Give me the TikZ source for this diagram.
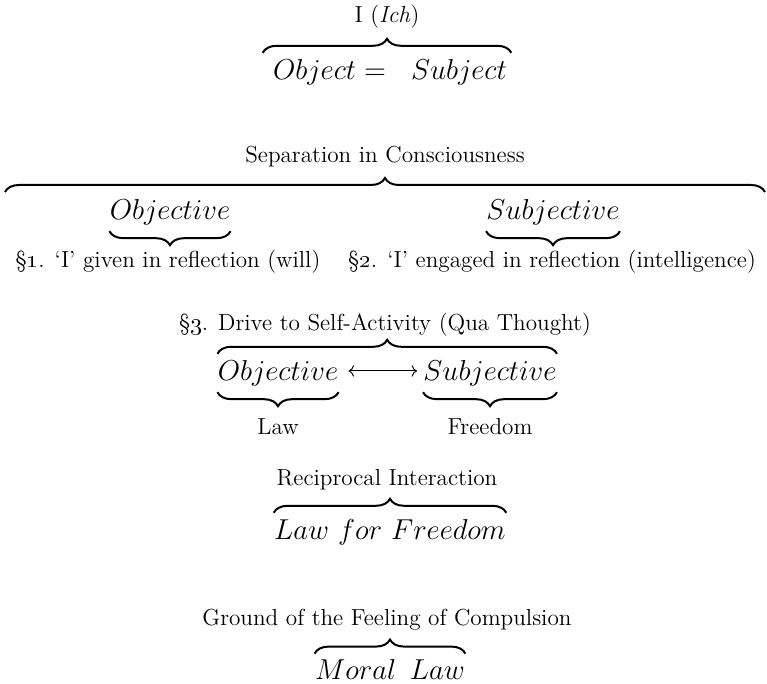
\documentclass[tikz,border=0pt]{standalone}
\usepackage{tikz}
\usetikzlibrary{arrows.meta,decorations.pathreplacing}

\begin{document}
\begin{tikzpicture}[x=0.5pt, y=0.5pt, >=To,
    txt/.style={inner sep=0pt, font=\fontsize{11.6}{13}\selectfont},
    big/.style={inner sep=0pt, font=\fontsize{15}{18}\selectfont},
    over/.style={decorate, decoration={brace, amplitude=7pt}, line width=1pt},
    under/.style={decorate, decoration={brace, mirror, amplitude=7pt}, line width=1pt}]

    \useasboundingbox (0,0) rectangle (767,684);

    % Ich
    \node[txt] (ich) at (387,667) {I (\textit{Ich})};
    \node[big] (obsub) at (390,612) {$Object =\;\ Subject$};
    \draw[over] ([xshift=-5pt,yshift=3pt]obsub.north west) -- ([xshift=2pt,yshift=3pt]obsub.north east);

    % Trennung im Bewusstsein
    \node[txt] (sep) at (385,527) {Separation in Consciousness};
    \coordinate (bl) at (5,492);
    \coordinate (br) at (765,492);
    \draw[over] (bl) -- (br);
    \node[big] (obj1) at (170,472) {$Objective$};
    \node[big] (subj1) at (553,472) {$Subjective$};
    \draw[under] ([yshift=-3pt]obj1.south west) -- ([yshift=-3pt]obj1.south east);
    \draw[under] ([yshift=-3pt]subj1.south west) -- ([yshift=-3pt]subj1.south east);
    \node[txt] (s1) at (168,422) {\S\oldstylenums{1}. `I' given in reflection (will)};
    \node[txt] (s2) at (552,422) {\S\oldstylenums{2}. `I' engaged in reflection (intelligence)};

    % Trieb zur Selbstthaetigkeit
    \node[txt] (s3) at (385,359) {\S\oldstylenums{3}. Drive to Self-Activity (Qua Thought)};
    \node[big] (obj2) at (278,311) {$Objective$};
    \node[big] (subj2) at (490,311) {$Subjective$};
    \draw[<->, line width=0.5pt] ([xshift=5pt,yshift=1pt]obj2.east) -- ([xshift=-3pt,yshift=1pt]subj2.west);
    \draw[over] ([yshift=3pt]obj2.north west) -- ([yshift=3pt]subj2.north east);
    \draw[under] ([yshift=-3pt]obj2.south west) -- ([yshift=-3pt]obj2.south east);
    \draw[under] ([yshift=-3pt]subj2.south west) -- ([yshift=-3pt]subj2.south east);
    \node[txt] (law) at (278,257) {Law};
    \node[txt] (free) at (490,257) {Freedom};

    % Wechselwirkung
    \node[txt] (recip) at (387,204) {Reciprocal Interaction};
    \node[big] (lff) at (390,152) {$Law\ for\ Freedom$};
    \draw[over] ([yshift=3pt]lff.north west) -- ([yshift=3pt]lff.north east);

    % Zwang
    \node[txt] (ground) at (387,64) {Ground of the Feeling of Compulsion};
    \node[big] (moral) at (390,14) {$Moral\,\ Law$};
    \draw[over] ([yshift=3pt]moral.north west) -- ([yshift=3pt]moral.north east);

\end{tikzpicture}
\end{document}
